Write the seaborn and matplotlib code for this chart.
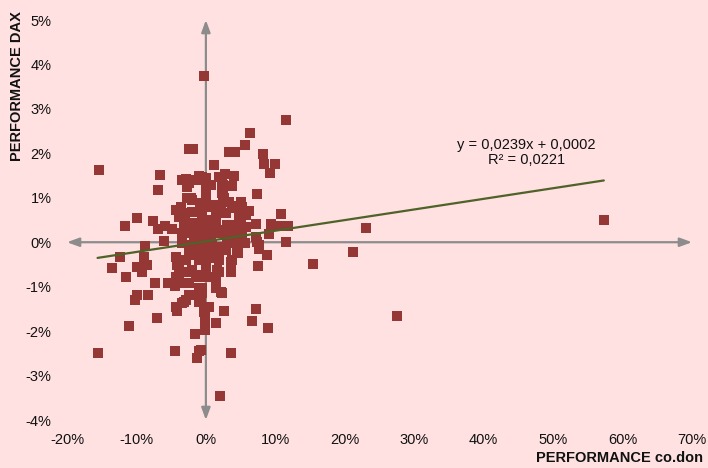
import matplotlib
matplotlib.use("Agg")
import matplotlib.pyplot as plt
from matplotlib.ticker import FuncFormatter, FixedLocator
import seaborn as sns
import pandas as pd

# ---- data (in percent) ----
perf_codon = [
    -15.4, -15.6, -13.5, -0.3, 11.5, 57.3, 27.5, 23.1, 21.2, 15.4, 2.0,
    -6.6, -6.9, -9.9, -11.7, -7.6, -6.1, -8.8, -5.9, -4.9, -6.9, -12.4, -8.9,
    -9.9, -8.5, -9.2, -11.5, -7.3, -5.5, -4.5, -9.9, -10.2, -8.4, -11.1, -7.1,
    -4.3, -4.2, -4.5,
    -2.4, -1.9, 3.3, 4.2, 5.6, 6.3, 8.2, 8.4, 9.9, 9.2, 1.2, 4.0, 2.7, 2.2,
    3.7, 2.4, 2.4, 2.6, 0.0, 0.0, -0.6, 0.0, 0.7, 7.3, 5.0, 4.0, 6.2, 5.0,
    0.4, 1.4, 2.2, 2.9, 3.7, 7.2, 10.8, 9.4, 10.4, 11.8, 9.1, 11.5, 7.2, 7.6,
    5.6, 4.8, 4.0, 1.9, 2.9, 0.0, 0.9,
    -2.9, -1.4, -1.0, -2.7, -2.0, -2.7, -3.6, -4.3, -2.0, -0.6, -3.9, -3.2,
    -1.4, 0.0, -3.5, -2.0, -1.0, -3.5, -2.4, 0.0, 1.9, 2.3, 2.3, -2.2, 0.4,
    -0.6, 3.7,
    -3.0, -0.9, 1.9, 3.3, 4.0, 5.2, -0.6, 1.4, 2.6, 4.8, 5.8, -2.9, -1.4, 0.0,
    1.4, 3.0, 4.5, 5.8, -3.2, -1.7, -0.6, 0.7, 2.2, 3.6, 5.2, -3.5, -2.0,
    -0.7, 0.9, 3.0, 4.3, -4.3, -3.9, -2.4, -1.0, 0.4, 1.9, 3.6, 4.5, -4.3,
    -2.9, -1.4, 0.0, 1.9, 3.6,
    -4.2, -3.9, -2.0, -1.0, -3.2, -2.4, -1.0, -1.0, -1.6, -1.0, -1.3, -0.1,
    -0.1, -0.1, -0.6, -1.0, 0.0, -2.4, -1.4, -2.9, 0.0, 0.9, 1.9, 0.0, 0.9,
    1.9, 2.9, 3.7, 4.6, 4.0, 7.3, 7.6, 8.8, 7.5, 0.4, 1.4, 2.3, 1.6, -0.6,
    -0.7, 0.4, 2.6, 7.2, 6.6, 8.9, 1.4, 3.6, -0.7,
    1.4, -3.9, -2.4, -1.0, -0.6, 1.4, 2.2, -1.7, -2.9, -3.5, -0.3,
]
perf_dax = [
    1.62, -2.49, -0.58, 3.75, 2.76, 0.49, -1.66, 0.31, -0.22, -0.49, -3.46,
    1.51, 1.17, 0.54, 0.36, 0.47, 0.02, -0.09, 0.36, 0.29, 0.29, -0.34, -0.34,
    -0.56, -0.52, -0.67, -0.79, -0.92, -0.92, -0.99, -1.19, -1.30, -1.19,
    -1.89, -1.71, -1.46, -1.55, -2.45,
    2.09, 2.09, 2.02, 2.02, 2.18, 2.45, 1.98, 1.75, 1.75, 1.55, 1.73, 1.48,
    1.53, 1.46, 1.26, 1.28, 1.06, 0.99, 1.17, 1.06, 1.46, 1.39, 1.28, 1.08,
    0.90, 0.79, 0.70, 0.56, 0.81, 0.65, 0.72, 0.65, 0.38, 0.40, 0.63, 0.40,
    0.36, 0.36, 0.18, 0.00, 0.11, -0.07, -0.02, 0.22, 0.09, 0.27, 0.22, 0.49,
    0.34,
    1.42, 1.39, 1.48, 1.24, 0.94, 0.99, 0.79, 0.72, 0.67, 0.72, 0.56, 0.43,
    0.43, 0.79, 0.20, 0.20, 0.11, 1.39, 1.33, 1.44, 1.46, 1.33, 1.10, 0.99,
    0.83, 0.76, 0.81,
    0.65, 0.88, 0.83, 0.90, 0.76, 0.79, 0.61, 0.56, 0.65, 0.56, 0.61, 0.43,
    0.38, 0.34, 0.38, 0.38, 0.38, 0.34, 0.20, 0.11, 0.20, 0.11, 0.20, 0.20,
    0.16, -0.02, -0.07, -0.02, -0.11, 0.04, -0.02, -0.34, -0.56, -0.25,
    -0.25, -0.34, -0.40, -0.45, -0.22, -0.79, -0.67, -0.74, -0.70, -0.67,
    -0.67,
    -0.52, -0.85, -0.63, -0.79, -1.35, -1.19, -1.35, -1.08, -2.07, -2.45,
    -2.61, -1.53, -1.75, -1.98, -0.25, -0.40, -0.47, -0.18, -0.29, -0.40,
    -0.11, -0.07, -0.11, -0.34, -0.36, -0.29, -0.18, -0.40, -0.25, 0.00,
    0.00, -0.16, -0.29, -0.54, -0.79, -0.85, -1.15, -0.63, -1.03, -1.35,
    -1.46, -1.55, -1.51, -1.78, -1.93, -1.82, -2.49, -2.43,
    -0.79, -0.92, -0.92, -1.03, -1.15, -1.03, -1.12, -1.19, -1.30, -1.37,
    -1.57,
]
trend_slope = 0.0239
trend_intercept = 0.0002   # as fraction -> 0.02 %
equation_text = "y = 0,0239x + 0,0002"
r2_text = "R\u00b2 = 0,0221"
x_ticks = [-20, -10, 0, 10, 20, 30, 40, 50, 60, 70]
y_ticks = [-4, -3, -2, -1, 0, 1, 2, 3, 4, 5]
x_title = "PERFORMANCE co.don"
y_title = "PERFORMANCE DAX"

BG = "#FFE1E1"
MARK = "#953735"
TREND = "#4F6228"
AXIS = "#8C8C8C"

sns.set_theme(style="white")
plt.rcParams["font.family"] = ["Liberation Sans", "DejaVu Sans"]

df = pd.DataFrame({"codon": perf_codon, "dax": perf_dax})
xmin, xmax = min(perf_codon), max(perf_codon)
trend_df = pd.DataFrame({
    "codon": [xmin, xmax],
    "dax": [trend_slope * xmin + trend_intercept * 100,
            trend_slope * xmax + trend_intercept * 100],
})

fig = plt.figure(figsize=(7.08, 4.68), dpi=100, facecolor=BG)
ax = fig.add_axes([67 / 708, 1 - 420 / 468, (692 - 67) / 708, (420 - 20) / 468])
ax.set_facecolor(BG)

# axis arrows through the origin
ax.annotate("", xy=(70, 0), xytext=(-20, 0), xycoords="data",
            arrowprops=dict(arrowstyle="<|-|>,head_length=0.6,head_width=0.22",
                            color=AXIS, lw=1.6, shrinkA=0, shrinkB=0), zorder=1)
ax.annotate("", xy=(0, 5), xytext=(0, -4), xycoords="data",
            arrowprops=dict(arrowstyle="<|-|>,head_length=0.6,head_width=0.22",
                            color=AXIS, lw=1.6, shrinkA=0, shrinkB=0), zorder=1)

sns.scatterplot(data=df, x="codon", y="dax", ax=ax, marker="s", s=44,
                color=MARK, linewidth=0, zorder=3)
sns.lineplot(data=trend_df, x="codon", y="dax", ax=ax, color=TREND,
             linewidth=1.6, zorder=4)

ax.set_xlim(-20, 70)
ax.set_ylim(-4, 5)
ax.xaxis.set_major_locator(FixedLocator(x_ticks))
ax.yaxis.set_major_locator(FixedLocator(y_ticks))
ax.xaxis.set_major_formatter(FuncFormatter(lambda v, p: f"{v:.0f}%"))
ax.yaxis.set_major_formatter(FuncFormatter(lambda v, p: f"{v:.0f}%"))
ax.tick_params(axis="both", length=0, labelsize=10.5, colors="#111111")
ax.tick_params(axis="y", pad=11)
ax.tick_params(axis="x", pad=9)
for s in ax.spines.values():
    s.set_visible(False)
ax.grid(False)
ax.set_xlabel("")
ax.set_ylabel("")

ax.text(46.2, 2.19, equation_text, ha="center", va="center", fontsize=10.5,
        color="#111111")
ax.text(46.2, 1.86, r2_text, ha="center", va="center", fontsize=10.5,
        color="#111111")

fig.text(703 / 708, 1 - 458 / 468, x_title, ha="right", va="center",
         fontsize=10.5, fontweight="bold", color="#111111")
fig.text(17 / 708, 1 - 86 / 468, y_title, ha="center", va="center",
         rotation=90, fontsize=10.5, fontweight="bold", color="#111111")

fig.savefig("out.png", dpi=100, facecolor=BG)
